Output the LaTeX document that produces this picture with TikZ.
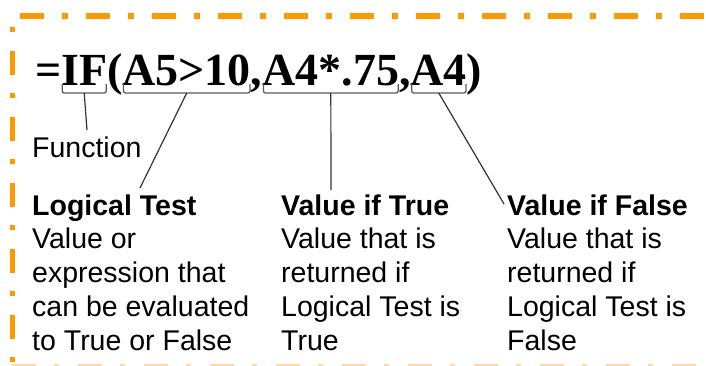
\documentclass[tikz,border=0pt]{standalone}
\usepackage{fontspec}
\usetikzlibrary{calc}
\setmainfont{Liberation Sans}
\newfontfamily\formulafont{Liberation Serif}
\definecolor{frameorange}{RGB}{255,153,0}
\definecolor{bracegray}{RGB}{90,90,90}
\definecolor{leadgray}{RGB}{50,50,50}
\begin{document}
\begin{tikzpicture}[x=1pt,y=-1pt,
  seg/.style={anchor=base west,inner sep=0pt,outer sep=0pt,font=\formulafont\bfseries\fontsize{46}{50}\selectfont},
  lbl/.style={anchor=base west,inner sep=0pt,align=left,font=\fontsize{28.5}{33.7}\selectfont},
  brace/.style={draw=bracegray,line width=1.3pt,rounded corners=2pt},
  leader/.style={draw=leadgray,line width=1.2pt},
  frame/.style={draw=frameorange,line width=5.5pt}]
\useasboundingbox (0,0) rectangle (706,365);
% frame
\draw[frame,dash pattern=on 24pt off 18pt on 5.5pt off 18.5pt] (20,16) -- (720,16);
\draw[frame,dash pattern=on 5pt off 19pt on 24pt off 18pt] (12.5,27) -- (12.5,380);
\draw[draw=frameorange,opacity=0.35,line width=2pt,dash pattern=on 24pt off 18pt on 5pt off 19pt] (12,364.5) -- (720,364.5);
% formula
\node[seg] (eq) at (35,85) {=};
\node[seg] (fn) at (eq.base east) {IF};
\node[seg] (lp) at (fn.base east) {(};
\node[seg] (test) at (lp.base east) {A5>10};
\node[seg] (c1) at (test.base east) {,};
\node[seg] (tv) at (c1.base east) {A4*.75};
\node[seg] (c2) at (tv.base east) {,};
\node[seg] (fv) at (c2.base east) {A4};
\node[seg] (rp) at (fv.base east) {)};
% braces
\foreach \n in {fn,test,tv,fv}{
  \draw[brace] ([xshift=1pt,yshift=1pt]\n.base west) -- ([xshift=1pt,yshift=-8pt]\n.base west)
     -- ([xshift=-1pt,yshift=-8pt]\n.base east) -- ([xshift=-1pt,yshift=1pt]\n.base east);
  \coordinate (\n m) at ([yshift=-8pt]$(\n.base west)!0.5!(\n.base east)$);
}
% labels (base anchor = baseline of last line)
\node[lbl] (lfn) at (32,157) {Function};
\node[lbl] (ltest) at (32,350) {\textbf{Logical Test}\\Value or\\expression that\\can be evaluated\\to True or False};
\node[lbl] (ltv) at (281,350) {\textbf{Value if True}\\Value that is\\returned if\\Logical Test is\\True};
\node[lbl] (lfv) at (507,350) {\textbf{Value if False}\\Value that is\\returned if\\Logical Test is\\False};
% leaders
\coordinate (efn) at (87,130);
\draw[leader] (fnm) -- (efn);
\coordinate (etest) at (140,188);
\draw[leader] (testm) -- (etest);
\coordinate (etv) at (331,190);
\draw[leader] (tvm) -- (etv);
\coordinate (efv) at (504,204);
\draw[leader] (fvm) -- (efv);
\end{tikzpicture}
\end{document}
